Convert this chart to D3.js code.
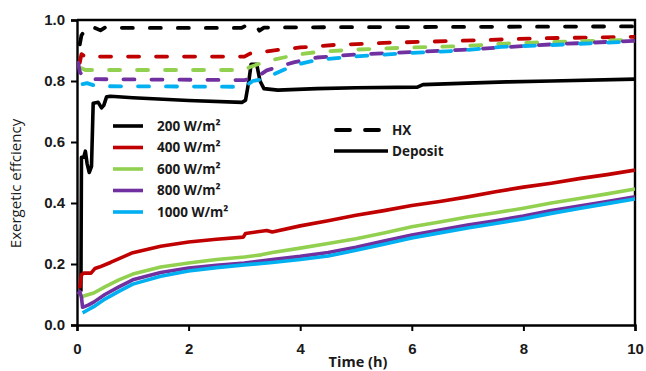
<!DOCTYPE html>
<html>
<head>
<meta charset="utf-8">
<script src="https://cdn.jsdelivr.net/npm/d3@7"></script>
<style>
    body { margin: 0; background: #fff; }
    #chart { width: 646px; height: 371px; font-family: "Open Sans", "Noto Sans", sans-serif; }
    .tick-text { font-size: 15px; font-weight: 700; fill: #1a1a1a; }
    .legend-text { font-size: 13.5px; font-weight: 700; fill: #1a1a1a; }
</style>
</head>
<body>
<div id="chart"></div>
<script>

/* series: [time (h), exergetic efficiency] */
const irradiances = ["200 W/m²", "400 W/m²", "600 W/m²", "800 W/m²", "1000 W/m²"];
const colors = ["#000000", "#c00000", "#92d050", "#7030a0", "#00b0f0"];

const hx200 = [[0.05, 0.92], [0.08, 0.95], [0.12, 0.96], [0.18, 0.974], [0.25, 0.966], [0.32, 0.974], [0.42, 0.966], [0.5, 0.975], [1, 0.974], [2, 0.974], [2.95, 0.974], [3.05, 0.984], [3.2, 0.984], [3.27, 0.965], [3.35, 0.975], [4, 0.976], [6, 0.977], [8, 0.978], [10, 0.979]];
const hx400 = [[0.05, 0.86], [0.08, 0.888], [0.15, 0.88], [3, 0.88], [3.1, 0.89], [3.3, 0.895], [3.6, 0.902], [4, 0.91], [4.6, 0.918], [5.5, 0.925], [6.9, 0.932], [8.3, 0.94], [10, 0.945]];
const hx600 = [[0.08, 0.842], [0.15, 0.836], [3, 0.836], [3.1, 0.846], [3.4, 0.865], [3.9, 0.885], [4.3, 0.895], [5, 0.903], [6, 0.91], [6.9, 0.914], [7.6, 0.922], [8.5, 0.928], [10, 0.935]];
const hx800 = [[0.02, 0.86], [0.05, 0.83], [0.12, 0.812], [0.27, 0.806], [3, 0.803], [3.2, 0.81], [3.4, 0.835], [3.9, 0.862], [4.3, 0.877], [5, 0.887], [6, 0.895], [6.9, 0.902], [7.6, 0.91], [8.5, 0.92], [10, 0.932]];
const hx1000 = [[0.1, 0.79], [0.18, 0.793], [0.35, 0.783], [3, 0.781], [3.15, 0.8], [3.3, 0.805], [3.5, 0.82], [3.9, 0.852], [4.3, 0.869], [5, 0.881], [6, 0.892], [6.9, 0.9], [7.6, 0.912], [8.5, 0.918], [10, 0.93]];

const dep200 = [[0.07, 0.11], [0.08, 0.55], [0.12, 0.55], [0.15, 0.57], [0.18, 0.53], [0.22, 0.5], [0.26, 0.52], [0.29, 0.727], [0.38, 0.73], [0.44, 0.712], [0.48, 0.72], [0.53, 0.748], [0.6, 0.75], [1, 0.745], [2, 0.736], [2.96, 0.73], [3.02, 0.737], [3.08, 0.8], [3.12, 0.855], [3.22, 0.855], [3.28, 0.8], [3.35, 0.775], [3.6, 0.77], [4.3, 0.775], [5, 0.778], [6.1, 0.78], [6.2, 0.788], [7, 0.793], [7.7, 0.797], [8.5, 0.8], [10, 0.806]];
const dep400 = [[0.05, 0.12], [0.08, 0.165], [0.12, 0.17], [0.25, 0.17], [0.32, 0.185], [0.4, 0.19], [0.6, 0.205], [1, 0.237], [1.5, 0.258], [2, 0.272], [2.5, 0.281], [2.98, 0.288], [3.02, 0.3], [3.4, 0.31], [3.5, 0.305], [4, 0.325], [4.5, 0.342], [5, 0.36], [5.5, 0.375], [6, 0.392], [6.5, 0.405], [7, 0.42], [7.5, 0.437], [8, 0.452], [8.5, 0.465], [9, 0.48], [9.5, 0.493], [10, 0.508]];
const dep600 = [[0.08, 0.09], [0.12, 0.095], [0.3, 0.105], [0.5, 0.125], [0.75, 0.148], [1, 0.167], [1.5, 0.19], [2, 0.203], [2.5, 0.215], [3, 0.223], [3.3, 0.23], [3.5, 0.238], [4, 0.252], [4.5, 0.267], [5, 0.283], [5.5, 0.302], [6, 0.322], [6.5, 0.338], [7, 0.354], [7.5, 0.368], [8, 0.383], [8.5, 0.4], [9, 0.415], [9.5, 0.43], [10, 0.446]];
const dep800 = [[0.02, 0.1], [0.05, 0.11], [0.08, 0.09], [0.1, 0.058], [0.2, 0.065], [0.3, 0.075], [0.5, 0.1], [0.75, 0.125], [1, 0.148], [1.5, 0.172], [2, 0.187], [2.5, 0.196], [3, 0.203], [3.5, 0.215], [4, 0.225], [4.5, 0.238], [5, 0.255], [5.5, 0.275], [6, 0.295], [6.5, 0.311], [7, 0.328], [7.5, 0.342], [8, 0.357], [8.5, 0.375], [9, 0.39], [9.5, 0.405], [10, 0.42]];
const dep1000 = [[0.1, 0.04], [0.2, 0.05], [0.3, 0.06], [0.5, 0.085], [0.75, 0.11], [1, 0.134], [1.5, 0.16], [2, 0.177], [2.5, 0.188], [3, 0.197], [3.5, 0.205], [4, 0.215], [4.5, 0.226], [5, 0.245], [5.5, 0.265], [6, 0.285], [6.5, 0.302], [7, 0.318], [7.5, 0.333], [8, 0.348], [8.5, 0.366], [9, 0.382], [9.5, 0.398], [10, 0.413]];

const xTicks = [0, 2, 4, 6, 8, 10];
const yTicks = [0.0, 0.2, 0.4, 0.6, 0.8, 1.0];

const hxSeries = [hx200, hx400, hx600, hx800, hx1000];
const depSeries = [dep200, dep400, dep600, dep800, dep1000];

/* layout */
const W = 646, H = 371;
const margin = { top: 20, right: 11, bottom: 46, left: 77 };
const width = W - margin.left - margin.right;
const height = H - margin.top - margin.bottom;

const svg = d3.select("#chart").append("svg")
    .attr("width", W)
    .attr("height", H);

const g = svg.append("g")
    .attr("transform", `translate(${margin.left}, ${margin.top})`);

/* scales */
const xScale = d3.scaleLinear().domain([0, 10]).range([0, width]);
const yScale = d3.scaleLinear().domain([0, 1]).range([height, 0]);

const line = d3.line()
    .x(d => xScale(d[0]))
    .y(d => yScale(d[1]));

/* plot frame (top + right edges) */
g.append("path")
    .attr("d", `M0,0H${width}V${height}`)
    .attr("fill", "none")
    .attr("stroke", "#000")
    .attr("stroke-width", 2.4);

/* axes */
const xAxis = g.append("g")
    .attr("transform", `translate(0, ${height})`)
    .call(d3.axisBottom(xScale).tickValues(xTicks).tickSize(6).tickFormat(d3.format("d")));

const yAxis = g.append("g")
    .call(d3.axisLeft(yScale).tickValues(yTicks).tickSize(6).tickFormat(d3.format(".1f")));

[xAxis, yAxis].forEach(ax => {
    ax.select(".domain").attr("stroke", "#000").attr("stroke-width", 2.4);
    ax.selectAll(".tick line").attr("stroke", "#000").attr("stroke-width", 2);
    ax.selectAll(".tick text")
        .attr("class", "tick-text")
        .style("font-family", "inherit");
});
xAxis.selectAll(".tick text").attr("dy", "1.3em");
yAxis.selectAll(".tick text").attr("x", -12);

/* axis titles */
svg.append("text")
    .text("Exergetic effciency")
    .attr("transform", `translate(21, ${margin.top + height / 2 + 11}) rotate(-90)`)
    .attr("text-anchor", "middle")
    .style("font-size", "15px")
    .style("fill", "#1a1a1a");

svg.append("text")
    .text("Time (h)")
    .attr("x", margin.left + width / 2 + 2)
    .attr("y", 367)
    .attr("text-anchor", "middle")
    .style("font-size", "14.5px")
    .style("font-weight", 700)
    .style("fill", "#1a1a1a");

/* series lines */
svg.append("defs").append("clipPath").attr("id", "plotclip")
    .append("rect").attr("x", 0).attr("y", -2).attr("width", width).attr("height", height + 2);

const linesGroup = g.append("g").attr("clip-path", "url(#plotclip)");

linesGroup.selectAll("path.dep")
    .data(depSeries)
    .join("path")
    .attr("class", "dep")
    .attr("d", line)
    .attr("fill", "none")
    .attr("stroke", (d, i) => colors[i])
    .attr("stroke-width", 3.6)
    .attr("stroke-linejoin", "round");

linesGroup.selectAll("path.hx")
    .data(hxSeries)
    .join("path")
    .attr("class", "hx")
    .attr("d", line)
    .attr("fill", "none")
    .attr("stroke", (d, i) => colors[i])
    .attr("stroke-width", 3.8)
    .attr("stroke-dasharray", "11,17")
    .attr("stroke-linecap", "round")
    .attr("stroke-linejoin", "round");

/* irradiance legend */
const legend = svg.append("g").attr("transform", "translate(113, 126)");
irradiances.forEach((label, i) => {
    const row = legend.append("g").attr("transform", `translate(0, ${i * 21.5})`);
    row.append("line")
        .attr("x1", 0).attr("x2", 30)
        .attr("stroke", colors[i])
        .attr("stroke-width", 3.6);
    row.append("text")
        .text(label)
        .attr("class", "legend-text")
        .attr("x", 44)
        .attr("dy", "0.35em");
});

/* line style legend */
const styleLegend = svg.append("g").attr("transform", "translate(334, 130)");
styleLegend.append("line")
    .attr("x1", 2).attr("x2", 45)
    .attr("stroke", "#000")
    .attr("stroke-width", 3.8)
    .attr("stroke-dasharray", "14,15")
    .attr("stroke-linecap", "round");
styleLegend.append("text")
    .text("HX")
    .attr("class", "legend-text")
    .attr("x", 58)
    .attr("dy", "0.35em");
styleLegend.append("line")
    .attr("x1", 0).attr("x2", 54)
    .attr("y1", 21).attr("y2", 21)
    .attr("stroke", "#000")
    .attr("stroke-width", 3.6);
styleLegend.append("text")
    .text("Deposit")
    .attr("class", "legend-text")
    .attr("x", 58)
    .attr("y", 21)
    .attr("dy", "0.35em");

</script>
</body>
</html>
